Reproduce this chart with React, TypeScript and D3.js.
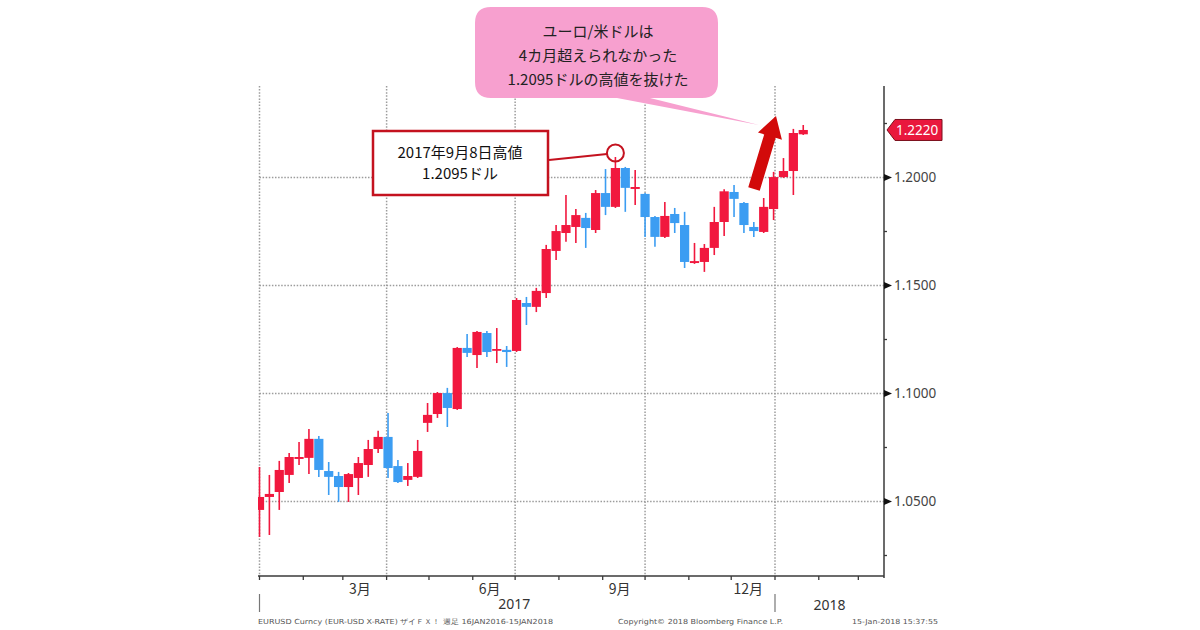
import { useEffect, useRef } from 'react'
import * as d3 from 'd3'

// weekly EUR/USD candles, week ending Fridays 30 Dec 2016 .. 19 Jan 2018
const weekEnds = d3.timeFriday.range(new Date(2016, 11, 30), new Date(2018, 0, 20))

const opens = [
  1.0461, 1.0521, 1.0544, 1.0623, 1.0697, 1.0702, 1.0790, 1.0641, 1.0618, 1.0567,
  1.0609, 1.0669, 1.0743, 1.0799, 1.0664, 1.0600, 1.0614, 1.0864, 1.0905, 1.1002,
  1.0928, 1.1211, 1.1178, 1.1280, 1.1202, 1.1202, 1.1197, 1.1419, 1.1401, 1.1465,
  1.1660, 1.1743, 1.1771, 1.1813, 1.1757, 1.1928, 1.1864, 1.2044, 1.1947, 1.1924,
  1.1817, 1.1725, 1.1831, 1.1780, 1.1604, 1.1609, 1.1674, 1.1794, 1.1933, 1.1882,
  1.1771, 1.1748, 1.1854, 1.2002, 1.2030, 1.2200,
]
const highs = [
  1.0660, 1.0623, 1.0688, 1.0725, 1.0776, 1.0836, 1.0803, 1.0683, 1.0637, 1.0632,
  1.0706, 1.0785, 1.0827, 1.0910, 1.0692, 1.0678, 1.0785, 1.0956, 1.1007, 1.1026,
  1.1215, 1.1276, 1.1289, 1.1289, 1.1303, 1.1220, 1.1442, 1.1447, 1.1489, 1.1688,
  1.1780, 1.1919, 1.1854, 1.1836, 1.1942, 1.2039, 1.2095, 1.2049, 1.2035, 1.1928,
  1.1822, 1.1887, 1.1859, 1.1841, 1.1697, 1.1692, 1.1864, 1.1946, 1.1965, 1.1887,
  1.1794, 1.1905, 1.2026, 1.2090, 1.2225, 1.2243,
]
const lows = [
  1.0336, 1.0345, 1.0461, 1.0586, 1.0669, 1.0627, 1.0614, 1.0530, 1.0498, 1.0498,
  1.0530, 1.0614, 1.0725, 1.0609, 1.0586, 1.0572, 1.0609, 1.0822, 1.0887, 1.0845,
  1.0924, 1.1169, 1.1118, 1.1169, 1.1141, 1.1123, 1.1192, 1.1317, 1.1377, 1.1442,
  1.1618, 1.1702, 1.1697, 1.1674, 1.1743, 1.1826, 1.1859, 1.1841, 1.1873, 1.1725,
  1.1679, 1.1720, 1.1743, 1.1581, 1.1600, 1.1563, 1.1641, 1.1729, 1.1817, 1.1743,
  1.1725, 1.1743, 1.1803, 1.1998, 1.1919, 1.2197,
]
const closes = [
  1.0521, 1.0535, 1.0646, 1.0706, 1.0706, 1.0790, 1.0646, 1.0614, 1.0567, 1.0627,
  1.0678, 1.0743, 1.0799, 1.0655, 1.0590, 1.0618, 1.0734, 1.0901, 1.1002, 1.0933,
  1.1211, 1.1188, 1.1285, 1.1192, 1.1206, 1.1192, 1.1433, 1.1401, 1.1475, 1.1669,
  1.1752, 1.1780, 1.1826, 1.1766, 1.1928, 1.1864, 1.2044, 1.1952, 1.1956, 1.1817,
  1.1725, 1.1822, 1.1789, 1.1609, 1.1613, 1.1674, 1.1794, 1.1936, 1.1901, 1.1780,
  1.1752, 1.1864, 1.2002, 1.2030, 1.2206, 1.2220,
]

const yMajorTicks = [1.05, 1.1, 1.15, 1.2]
const yMinorTicks = [1.025, 1.075, 1.125, 1.175, 1.225]
const monthLabels = [
  { month: 2, label: '3月' },
  { month: 5, label: '6月' },
  { month: 8, label: '9月' },
  { month: 11, label: '12月' },
]
const lastPrice = 1.222
const highNote = { week: 36, price: 1.2095, lines: ['2017年9月8日高値', '1.2095ドル'] }
const bubbleLines = ['ユーロ/米ドルは', '4カ月超えられなかった', '1.2095ドルの高値を抜けた']
const footerLeft = 'EURUSD Curncy (EUR-USD X-RATE) ザイＦＸ！ 週足 16JAN2016-15JAN2018'
const footerMid = 'Copyright© 2018 Bloomberg Finance L.P.'
const footerRight = '15-Jan-2018 15:37:55'

const RED = '#f1183e'
const BLUE = '#3c9df2'
const JP = '"Noto Sans CJK JP", sans-serif'
const NUM = '"Noto Sans", "Open Sans", sans-serif'

export default function EurUsdWeekly() {
  const svgRef = useRef<SVGSVGElement | null>(null)

  useEffect(() => {
    if (!svgRef.current) return
    const svg = d3.select(svgRef.current)
    svg.selectAll('*').remove()

    const left = 258, right = 884, top = 86, bottom = 576

    const x = d3.scaleTime()
      .domain([new Date(2017, 0, 1), new Date(2018, 0, 1)])
      .range([259.5, 775])
    const y = d3.scaleLinear().domain([1.05, 1.2]).range([501.5, 177.5])

    const candles = weekEnds.map((d, i) => ({
      date: d, o: opens[i], h: highs[i], l: lows[i], c: closes[i],
    }))
    const cx = (d: Date) => x(d3.timeDay.offset(d, 2))

    svg.append('rect').attr('width', 1200).attr('height', 630).attr('fill', '#fff')

    svg.append('defs').append('clipPath').attr('id', 'plot-clip')
      .append('rect')
      .attr('x', left).attr('y', top)
      .attr('width', right - left).attr('height', bottom - top)

    // dotted grid
    const grid = svg.append('g')
      .attr('stroke', '#9c9c9c').attr('stroke-width', 1.5)
      .attr('stroke-dasharray', '1.5 1.6')
    grid.selectAll('line.h').data(yMajorTicks).enter().append('line')
      .attr('x1', x(new Date(2017, 0, 1))).attr('x2', right)
      .attr('y1', d => y(d)).attr('y2', d => y(d))
    const quarters = d3.timeMonth.every(3)!.range(new Date(2017, 0, 1), new Date(2018, 0, 2))
    grid.selectAll('line.v').data(quarters).enter().append('line')
      .attr('x1', d => x(d)).attr('x2', d => x(d))
      .attr('y1', top).attr('y2', bottom)

    // candles
    const plot = svg.append('g').attr('clip-path', 'url(#plot-clip)')
    const bw = 9.2
    const cg = plot.selectAll('g.candle').data(candles).enter().append('g')
      .attr('fill', d => (d.c >= d.o ? RED : BLUE))
      .attr('stroke', d => (d.c >= d.o ? RED : BLUE))
    cg.append('line')
      .attr('x1', d => cx(d.date)).attr('x2', d => cx(d.date))
      .attr('y1', d => y(d.h)).attr('y2', d => y(d.l))
      .attr('stroke-width', 1.6)
    cg.append('rect')
      .attr('x', d => cx(d.date) - bw / 2)
      .attr('width', bw)
      .attr('y', d => y(Math.max(d.o, d.c)))
      .attr('height', d => Math.max(1.8, Math.abs(y(d.o) - y(d.c))))
      .attr('stroke', 'none')

    // bottom axis
    const axisColor = '#3a3a3a'
    svg.append('line')
      .attr('x1', left).attr('x2', right).attr('y1', bottom).attr('y2', bottom)
      .attr('stroke', axisColor).attr('stroke-width', 1.5)
    const months = d3.timeMonth.range(new Date(2017, 0, 1), new Date(2018, 2, 15))
    svg.append('g').selectAll('line').data(months).enter().append('line')
      .attr('x1', d => x(d)).attr('x2', d => x(d))
      .attr('y1', bottom).attr('y2', bottom + 4)
      .attr('stroke', axisColor).attr('stroke-width', 1.3)
    svg.append('g').selectAll('text').data(monthLabels).enter().append('text')
      .attr('x', d => x(new Date(2017, d.month, 13)))
      .attr('y', 594)
      .attr('text-anchor', 'middle')
      .attr('font-family', JP).attr('font-size', 14).attr('fill', '#333')
      .text(d => d.label)

    const y17 = x(new Date(2017, 0, 1)), y18 = x(new Date(2018, 0, 1))
    svg.append('g').selectAll('line').data([y17, y18]).enter().append('line')
      .attr('x1', d => d).attr('x2', d => d).attr('y1', 594).attr('y2', 612)
      .attr('stroke', '#777').attr('stroke-width', 1.2)
    svg.append('text')
      .attr('x', (y17 + y18) / 2 - 3).attr('y', 609)
      .attr('text-anchor', 'middle')
      .attr('font-family', NUM).attr('font-size', 14).attr('fill', '#333')
      .text('2017')
    svg.append('text')
      .attr('x', (y18 + right) / 2).attr('y', 610)
      .attr('text-anchor', 'middle')
      .attr('font-family', NUM).attr('font-size', 14).attr('fill', '#333')
      .text('2018')

    // right axis
    svg.append('line')
      .attr('x1', right).attr('x2', right).attr('y1', top).attr('y2', bottom + 2)
      .attr('stroke', axisColor).attr('stroke-width', 1.5)
    svg.append('g').selectAll('line').data(yMinorTicks).enter().append('line')
      .attr('x1', right).attr('x2', right + 3)
      .attr('y1', d => y(d)).attr('y2', d => y(d))
      .attr('stroke', axisColor).attr('stroke-width', 1.3)
    svg.append('g').selectAll('path').data(yMajorTicks).enter().append('path')
      .attr('d', d => `M${right},${y(d) - 3.5}L${right + 8},${y(d)}L${right},${y(d) + 3.5}Z`)
      .attr('fill', '#111')
    svg.append('g').selectAll('text').data(yMajorTicks).enter().append('text')
      .attr('x', right + 10).attr('y', d => y(d))
      .attr('dy', '0.35em')
      .attr('font-family', NUM).attr('font-size', 13.5).attr('fill', '#444')
      .text(d => d.toFixed(4))

    // last price tag
    const ly = y(lastPrice)
    svg.append('path')
      .attr('d', `M${right + 3},${ly}L${right + 11},${ly - 10.5}H${right + 58}V${ly + 10.5}H${right + 11}Z`)
      .attr('fill', '#e9183d').attr('stroke', '#7a0f1c').attr('stroke-width', 1)
    svg.append('text')
      .attr('x', right + 12).attr('y', ly).attr('dy', '0.36em')
      .attr('font-family', NUM).attr('font-size', 13.5).attr('fill', '#fff')
      .text(lastPrice.toFixed(4))

    // high annotation
    const hx = cx(weekEnds[highNote.week])
    const hy = y(highNote.price) - 4
    const boxRed = '#c4121f'
    svg.append('rect')
      .attr('x', 373).attr('y', 131).attr('width', 175).attr('height', 64)
      .attr('fill', '#fff').attr('stroke', boxRed).attr('stroke-width', 2.5)
    svg.append('g').selectAll('text').data(highNote.lines).enter().append('text')
      .attr('x', 460).attr('y', (_, i) => 153 + i * 21).attr('dy', '0.36em')
      .attr('text-anchor', 'middle')
      .attr('font-family', JP).attr('font-size', 15).attr('fill', '#111')
      .text(d => d)
    svg.append('line')
      .attr('x1', 549).attr('y1', 160).attr('x2', hx - 8.3).attr('y2', hy + 1)
      .attr('stroke', boxRed).attr('stroke-width', 2)
    svg.append('circle')
      .attr('cx', hx).attr('cy', hy).attr('r', 8.5)
      .attr('fill', 'none').attr('stroke', boxRed).attr('stroke-width', 2)

    // pink speech bubble
    svg.append('path')
      .attr('d', 'M491,7H702Q718,7 718,23V82Q718,98 702,98H650L759,125L617,98H491Q475,98 475,82V23Q475,7 491,7Z')
      .attr('fill', '#f7a0cf')
    svg.append('g').selectAll('text').data(bubbleLines).enter().append('text')
      .attr('x', 598).attr('y', (_, i) => 32 + i * 24).attr('dy', '0.36em')
      .attr('text-anchor', 'middle')
      .attr('font-family', JP).attr('font-size', 15).attr('fill', '#222')
      .text(d => d)

    // big red arrow
    const a0: [number, number] = [754, 189]
    const a1: [number, number] = [776, 116]
    const len = Math.hypot(a1[0] - a0[0], a1[1] - a0[1])
    const ux = (a1[0] - a0[0]) / len, uy = (a1[1] - a0[1]) / len
    const nx = -uy, ny = ux
    const sh = 6, hh = 12.5, hl = 21
    const neck = [a1[0] - ux * hl, a1[1] - uy * hl]
    const pts = [
      [a0[0] + nx * sh, a0[1] + ny * sh],
      [neck[0] + nx * sh, neck[1] + ny * sh],
      [neck[0] + nx * hh, neck[1] + ny * hh],
      a1,
      [neck[0] - nx * hh, neck[1] - ny * hh],
      [neck[0] - nx * sh, neck[1] - ny * sh],
      [a0[0] - nx * sh, a0[1] - ny * sh],
    ]
    svg.append('path')
      .attr('d', 'M' + pts.map(p => p.join(',')).join('L') + 'Z')
      .attr('fill', '#d20a0a')

    // footer
    const foot = svg.append('g')
      .attr('font-family', '"DejaVu Sans", sans-serif').attr('font-size', 7).attr('fill', '#555')
    foot.append('text').attr('x', 258).attr('y', 624)
      .attr('textLength', 295).attr('lengthAdjust', 'spacingAndGlyphs').text(footerLeft)
    foot.append('text').attr('x', 618).attr('y', 624)
      .attr('textLength', 165).attr('lengthAdjust', 'spacingAndGlyphs').text(footerMid)
    foot.append('text').attr('x', 852).attr('y', 624)
      .attr('textLength', 86).attr('lengthAdjust', 'spacingAndGlyphs').text(footerRight)
  }, [])

  return (
    <svg
      ref={svgRef}
      width={1200}
      height={630}
      style={{ position: 'absolute', left: 0, top: 0 }}
    ></svg>
  )
}
